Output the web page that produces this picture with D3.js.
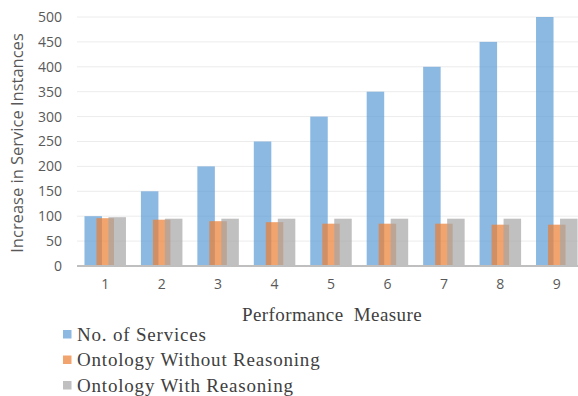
<!DOCTYPE html>
<html>
<head>
<meta charset="utf-8">
<script src="https://cdn.jsdelivr.net/npm/d3@7"></script>
<style>
  html, body { margin: 0; padding: 0; background: #fff; }
  svg { display: block; }
</style>
</head>
<body>
<svg id="chart" width="578" height="396"></svg>
<script>
// Performance measure steps on the x axis
const categories = ["1", "2", "3", "4", "5", "6", "7", "8", "9"];
// Series values
const services = [100, 150, 200, 250, 300, 350, 400, 450, 500];
const withoutReasoning = [96, 93, 90, 88, 85, 85, 85, 83, 83];
const withReasoning = [98, 95, 95, 95, 95, 95, 95, 95, 95];
const seriesNames = ["No. of Services", "Ontology Without Reasoning", "Ontology With Reasoning"];
const yTicks = [0, 50, 100, 150, 200, 250, 300, 350, 400, 450, 500];

const seriesList = [
  { name: seriesNames[0], values: services, color: "#5B9BD5" },
  { name: seriesNames[1], values: withoutReasoning, color: "#ED7D31" },
  { name: seriesNames[2], values: withReasoning, color: "#A5A5A5" }
];

const svg = d3.select("#chart");
const plot = { left: 77, right: 585, top: 17, bottom: 266 };

const x = d3.scaleBand().domain(categories).range([plot.left, plot.right]).padding(0);
const y = d3.scaleLinear().domain([0, 500]).range([plot.bottom, plot.top]);

// Horizontal gridlines
svg.append("g")
  .selectAll("line")
  .data(yTicks.filter(d => d > 0))
  .join("line")
  .attr("x1", plot.left).attr("x2", 578)
  .attr("y1", d => y(d)).attr("y2", d => y(d))
  .attr("stroke", "#ececec").attr("stroke-width", 1);

// Y axis labels
const yAxis = svg.append("g")
  .attr("transform", `translate(${plot.left - 15},0)`)
  .call(d3.axisLeft(y).tickValues(yTicks).tickSize(0).tickPadding(0));
yAxis.select(".domain").remove();
yAxis.selectAll("text")
  .attr("fill", "#595959")
  .style("font-family", "'Open Sans', sans-serif")
  .style("font-size", "14px");

// Bars: overlapping clustered columns
const barW = 17.5, step = 12;
seriesList.forEach((s, i) => {
  svg.append("g")
    .selectAll("rect")
    .data(s.values.map((v, j) => ({ cat: categories[j], v })))
    .join("rect")
    .attr("x", d => x(d.cat) + x.bandwidth() / 2 - (barW + 2 * step) / 2 + i * step)
    .attr("y", d => y(d.v))
    .attr("width", barW)
    .attr("height", d => y(0) - y(d.v))
    .attr("fill", s.color)
    .attr("fill-opacity", 0.7);
});

// Baseline
svg.append("line")
  .attr("x1", plot.left).attr("x2", 578)
  .attr("y1", y(0)).attr("y2", y(0))
  .attr("stroke", "#bfbfbf").attr("stroke-width", 2);

// X axis labels
const xAxis = svg.append("g")
  .attr("transform", `translate(0,${y(0) + 13})`)
  .call(d3.axisBottom(x).tickSize(0).tickPadding(0));
xAxis.select(".domain").remove();
xAxis.selectAll("text")
  .attr("fill", "#595959")
  .style("font-family", "'Open Sans', sans-serif")
  .style("font-size", "14px");

// Y axis title
svg.append("text")
  .attr("transform", `translate(23,${143}) rotate(-90)`)
  .attr("text-anchor", "middle")
  .attr("fill", "#595959")
  .style("font-family", "'Open Sans', sans-serif")
  .style("font-size", "16.5px")
  .text("Increase in Service Instances");

// X axis title
svg.append("text")
  .attr("x", 332).attr("y", 321)
  .attr("text-anchor", "middle")
  .attr("fill", "#404040")
  .style("font-family", "'Liberation Serif', serif")
  .style("font-size", "19px")
  .style("letter-spacing", "0.4px")
  .attr("xml:space", "preserve")
  .text("Performance  Measure");

// Legend
const legend = svg.append("g");
seriesList.forEach((s, i) => {
  const cy = 334 + i * 25.5;
  legend.append("rect")
    .attr("x", 63).attr("y", cy - 4)
    .attr("width", 8.5).attr("height", 8.5)
    .attr("fill", s.color).attr("fill-opacity", 0.7);
  legend.append("text")
    .attr("x", 77).attr("y", cy + 6.5)
    .attr("fill", "#404040")
    .style("font-family", "'Liberation Serif', serif")
    .style("font-size", "19px")
    .style("letter-spacing", "0.8px")
    .text(s.name);
});
</script>
</body>
</html>
